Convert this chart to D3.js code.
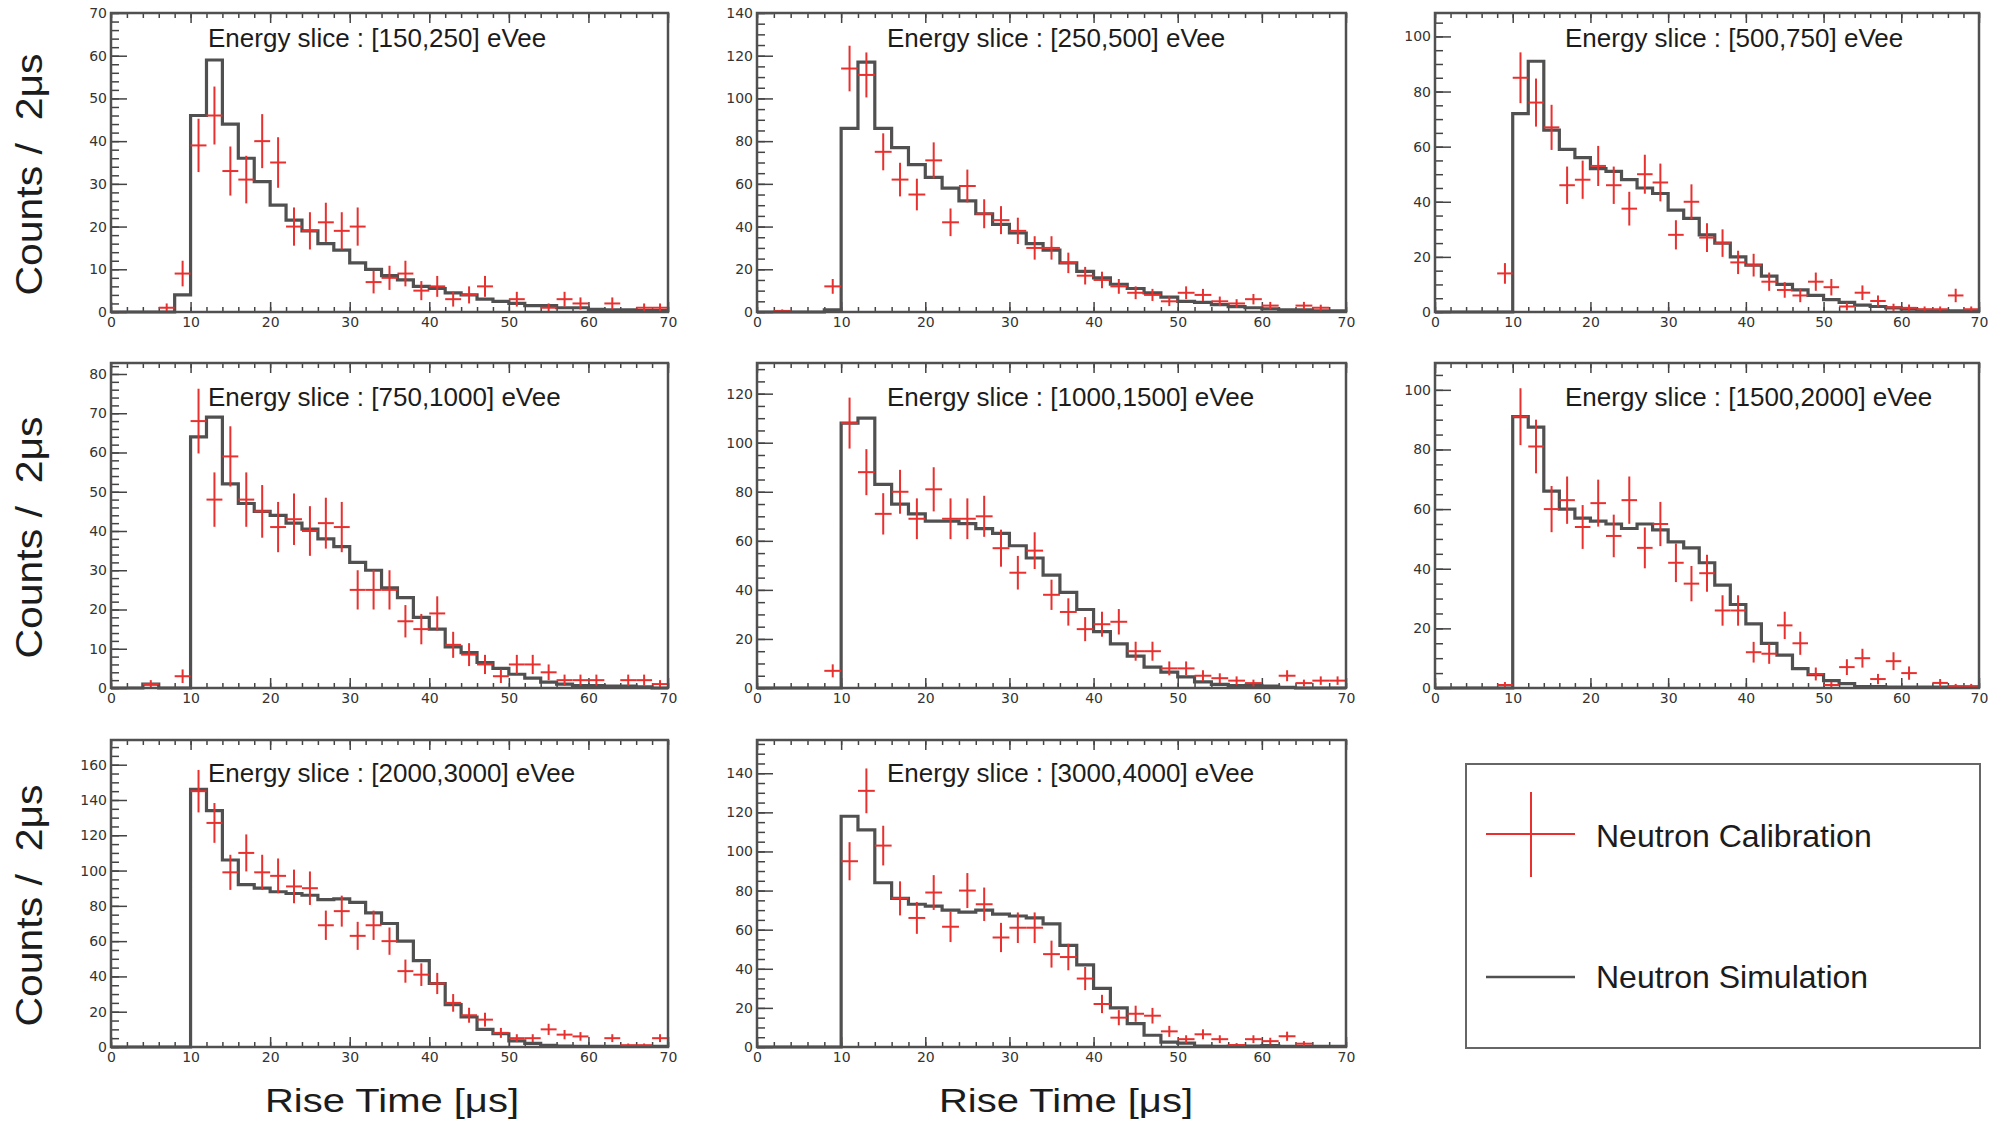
<!DOCTYPE html>
<html>
<head>
<meta charset="utf-8">
<script src="https://cdn.jsdelivr.net/npm/d3@7"></script>
<style>
  body { margin: 0; background: #fff; }
  svg { display: block; }
  text { font-family: "Liberation Sans", Arial, sans-serif; fill: #1c1c1c; }
  .tick text { font-family: "DejaVu Sans", sans-serif; font-size: 14px; fill: #333; }
</style>
</head>
<body>
<svg id="chart" width="2003" height="1124"></svg>
<script>
// ---- data ----
const binCenters = [1,3,5,7,9,11,13,15,17,19,21,23,25,27,29,31,33,35,37,39,41,43,45,47,49,51,53,55,57,59,61,63,65,67,69];
const binWidth = 2;

const sliceTitles = [
  'Energy slice : [150,250] eVee',
  'Energy slice : [250,500] eVee',
  'Energy slice : [500,750] eVee',
  'Energy slice : [750,1000] eVee',
  'Energy slice : [1000,1500] eVee',
  'Energy slice : [1500,2000] eVee',
  'Energy slice : [2000,3000] eVee',
  'Energy slice : [3000,4000] eVee'
];

// simulation histograms (one value per bin)
const sim150  = [0,0,0,0,4,46,59,44,36,30.5,25,21.5,19,16,14.5,11.5,10,8.5,7.5,6,5.5,4.5,4,3,2.5,2,1.5,1.5,1,1,0.6,0.5,0.5,0.3,0.3];
const sim250  = [0,0,0,0,1,86,117,86,77,69,63,58,52,46,41,37,32,29,23,19,16,13,11,9,7,5,4.5,3.5,2.5,2,1.5,1,1,0.5,0.5];
const sim500  = [0,0,0,0,0,72,91,66,59,56,52,51,48,45,43,37,34,28,25,20,17,13,10,8,6,4.5,3.5,2.5,2,1.5,1,0.6,0.5,0.4,0.3];
const sim750  = [0,0,1,0,0,64,69,52,47,45,44,42,40.5,38,36,32,30,25.5,23,18,15,10.5,9,6.5,5,3.5,2.5,1.5,1,0.6,0.6,0.5,0.5,0.3,0];
const sim1000 = [0,0,0,0,0,108,110,83,75,71,68,68,67,65,63,58,53,46,39,32,23,18,13,8.5,6.5,4.5,2.5,1.5,1,1,0.8,0.3,0,0,0];
const sim1500 = [0,0,0,0,0,91,87.5,66,60,57,56,55,53.5,55,53,49,47,42,34.5,28,21.5,15,11,6.5,4.5,2.5,1.5,0.5,0.5,0.3,0.3,0.3,0.3,0.3,0.3];
const sim2000 = [0,0,0,0,0,146,134,106,92,90,88,87,86,83.5,84,82,76,70,60,49,36,24,17,10,7.5,3.5,2,1,0.5,0.3,0.3,0.3,0.3,0.3,0.3];
const sim3000 = [0,0,0,0,0,118,111,84,76,73,72,70,69,70,68,67,66,63,52,42,30,20,12,6,2.5,2,0.5,0.3,0.5,0.5,0.7,0.3,0.3,0.3,0.3];

// calibration data (counts per bin, null = no point drawn)
const cal150  = [null,null,null,1,9,39,46,33,31,40,35,20,19,21,19,20,7,8,9,5,6,3,4,6,null,3,null,1,3,2,null,2,null,1,1];
const cal250  = [null,0.5,null,null,12,114,111,75,62,55,71,42,59,46,43,38,30,30,23,17,15,12,9,8,5,9,8,5,4,6,3,null,3,2,null];
const cal500  = [null,null,null,null,14,85,76,67,46,48,53,46,37.5,50,47,28,40,27,25,18,17,11,8,6,11,9,2,7,4,1.7,1.5,1,1,6,1];
const cal750  = [null,null,1,null,3,68,48,59,48,45,41,43,40,42,41,25,25,25,17,15,19,11,8.5,6,3,6,6,4,2,2,2,null,2,2,1];
const cal1000 = [null,null,null,null,7,108,88,71,80,69,81,69,69,70,57,47,56,38,31,24,26,27,15,15,8,8,5,4,3,2,null,5,2,3,3];
const cal1500 = [null,null,null,null,1,91,81,60,63,54,62,51,63,47,55,42,35,38.5,26,26,12,11.5,21,15,4.7,1,7,10,3,9,5,null,1.7,0.6,0.6];
const cal2000 = [null,null,null,null,null,145,127,99,110,99,97,91,90,69,77,63,69,60,43,41,36,25,18,15.5,8,5,5,10,7,6,null,5,1,1,5];
const cal3000 = [null,null,null,null,null,95,131,103,76,66,79,61.5,80,73,56,61,61,47.5,46,35,22,15,17,16,8,4,6.5,4,1,4,3,5.5,1.7,null,null];

const simSeries = [sim150, sim250, sim500, sim750, sim1000, sim1500, sim2000, sim3000];
const calSeries = [cal150, cal250, cal500, cal750, cal1000, cal1500, cal2000, cal3000];

// axis ranges / tick steps per panel
const yMaxima    = [70, 140, 108.5, 82.8, 132.5, 109, 174, 157];
const yMajorStep = [10, 20, 20, 10, 20, 20, 20, 20];
const yMinorStep = [2, 5, 5, 2, 5, 5, 5, 5];
const xTicks = [0, 10, 20, 30, 40, 50, 60, 70];

const legendLabels = ['Neutron Calibration', 'Neutron Simulation'];
const yLabel = 'Counts /  2\u03bcs';
const xLabel = 'Rise Time [\u03bcs]';

// ---- layout ----
const colX = [[111, 668], [757, 1346], [1435, 1979]];
const rowY = [[13, 312], [363, 688], [740, 1047]];
const titleX = [208, 887, 1565];
const titleDy = [34, 43, 42];
const red = '#e8302e';
const gray = '#505050';

const svg = d3.select('#chart');

simSeries.forEach((sim, p) => {
  const col = p % 3, row = Math.floor(p / 3);
  const [x0, x1] = colX[col], [y0, y1] = rowY[row];
  const w = x1 - x0, h = y1 - y0;

  const x = d3.scaleLinear().domain([0, 70]).range([0, w]);
  const y = d3.scaleLinear().domain([0, yMaxima[p]]).range([h, 0]);

  const g = svg.append('g').attr('transform', `translate(${x0},${y0})`);

  // ticks (ROOT style: pointing inward)
  const xMinor = d3.range(0, 70.001, 2);
  const yMajor = d3.range(0, yMaxima[p] + 0.001, yMajorStep[p]);
  const yMinor = d3.range(0, yMaxima[p] + 0.001, yMinorStep[p]);

  const axes = g.append('g').attr('color', '#444');
  axes.append('g').attr('transform', `translate(0,${h})`)
    .call(d3.axisBottom(x).tickValues(xTicks).tickSizeInner(-10).tickSizeOuter(0).tickPadding(5).tickFormat(d3.format('d')));
  axes.append('g').attr('transform', `translate(0,${h})`)
    .call(d3.axisBottom(x).tickValues(xMinor).tickSizeInner(-5).tickSizeOuter(0).tickFormat(''));
  axes.append('g')
    .call(d3.axisTop(x).tickValues(xTicks).tickSizeInner(-10).tickSizeOuter(0).tickFormat(''));
  axes.append('g')
    .call(d3.axisTop(x).tickValues(xMinor).tickSizeInner(-5).tickSizeOuter(0).tickFormat(''));
  axes.append('g')
    .call(d3.axisLeft(y).tickValues(yMajor).tickSizeInner(-16).tickSizeOuter(0).tickPadding(4).tickFormat(d3.format('d')));
  axes.append('g')
    .call(d3.axisLeft(y).tickValues(yMinor).tickSizeInner(-8).tickSizeOuter(0).tickFormat(''));
  axes.selectAll('.domain').remove();
  axes.selectAll('.tick line').attr('stroke-width', 1.5);

  // simulation histogram as a step line
  const pts = sim.map((v, i) => [binCenters[i] - binWidth / 2, v]);
  pts.push([binCenters[binCenters.length - 1] + binWidth / 2, sim[sim.length - 1]]);
  g.append('path')
    .datum(pts)
    .attr('fill', 'none')
    .attr('stroke', gray)
    .attr('stroke-width', 3.2)
    .attr('d', d3.line().x(d => x(d[0])).y(d => y(d[1])).curve(d3.curveStepAfter));

  // calibration points with Poisson error bars
  const cal = calSeries[p]
    .map((v, i) => ({ c: binCenters[i], v: v }))
    .filter(d => d.v !== null);
  const cross = g.selectAll('g.pt').data(cal).enter().append('g').attr('class', 'pt')
    .attr('stroke', red).attr('stroke-width', 2);
  cross.append('line')
    .attr('x1', d => x(d.c - binWidth / 2)).attr('x2', d => x(d.c + binWidth / 2))
    .attr('y1', d => y(d.v)).attr('y2', d => y(d.v));
  cross.append('line')
    .attr('x1', d => x(d.c)).attr('x2', d => x(d.c))
    .attr('y1', d => y(Math.max(0, d.v - Math.sqrt(d.v))))
    .attr('y2', d => y(d.v + Math.sqrt(d.v)));

  // frame
  g.append('rect')
    .attr('width', w).attr('height', h)
    .attr('fill', 'none').attr('stroke', gray).attr('stroke-width', 2.5);

  // slice title
  svg.append('text')
    .attr('x', titleX[col]).attr('y', y0 + titleDy[row])
    .attr('font-size', 26)
    .text(sliceTitles[p]);
});

// y axis titles (one per row)
rowY.forEach(([a, b]) => {
  svg.append('text')
    .attr('transform', `translate(42,${(a + b) / 2 + 12}) rotate(-90)`)
    .attr('text-anchor', 'middle')
    .attr('font-size', 37)
    .attr('textLength', 242)
    .attr('lengthAdjust', 'spacingAndGlyphs')
    .style('white-space', 'pre')
    .text(yLabel);
});

// x axis titles (under the bottom row)
[392, 1066].forEach(cx => {
  svg.append('text')
    .attr('x', cx).attr('y', 1112)
    .attr('text-anchor', 'middle')
    .attr('font-size', 34)
    .attr('textLength', 254)
    .attr('lengthAdjust', 'spacingAndGlyphs')
    .text(xLabel);
});

// legend
const lg = svg.append('g');
lg.append('rect')
  .attr('x', 1466).attr('y', 764).attr('width', 514).attr('height', 284)
  .attr('fill', 'none').attr('stroke', '#666').attr('stroke-width', 2);
lg.append('line').attr('x1', 1486).attr('x2', 1575).attr('y1', 834).attr('y2', 834)
  .attr('stroke', red).attr('stroke-width', 2);
lg.append('line').attr('x1', 1531).attr('x2', 1531).attr('y1', 792).attr('y2', 877)
  .attr('stroke', red).attr('stroke-width', 2);
lg.append('line').attr('x1', 1486).attr('x2', 1575).attr('y1', 977).attr('y2', 977)
  .attr('stroke', gray).attr('stroke-width', 2.5);
lg.selectAll('text.leg').data(legendLabels).enter().append('text')
  .attr('class', 'leg')
  .attr('x', 1596)
  .attr('y', (d, i) => i === 0 ? 847 : 988)
  .attr('font-size', 32)
  .text(d => d);
</script>
</body>
</html>
